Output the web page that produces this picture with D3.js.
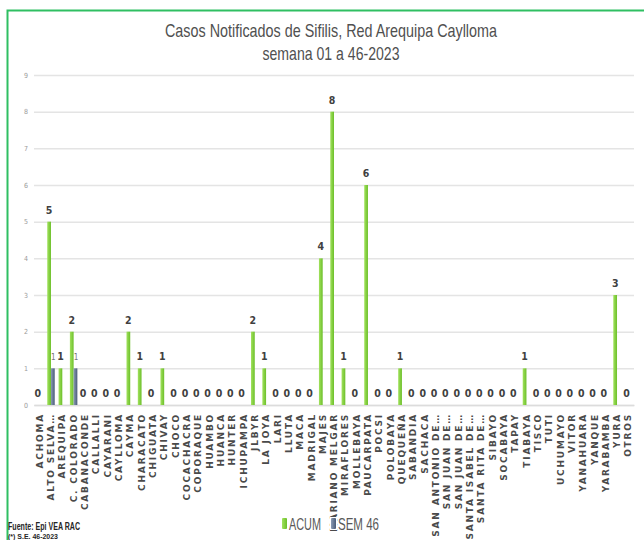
<!DOCTYPE html>
<html>
<head>
<meta charset="utf-8">
<script src="https://cdn.jsdelivr.net/npm/d3@7"></script>
<style>
  body { margin: 0; background: #fff; }
  svg { display: block; }
  .narrow { font-family: "Liberation Sans", Arial, sans-serif; }
</style>
</head>
<body>
<div id="view"></div>
<script>
// datos
const categories = [
  "ACHOMA","ALTO SELVA…","AREQUIPA","C. COLORADO","CABANACONDE","CALLALLI","CAYARANI","CAYLLOMA",
  "CAYMA","CHARACATO","CHIGUATA","CHIVAY","CHOCO","COCACHACRA","COPORAQUE","HUAMBO","HUANCA",
  "HUNTER","ICHUPAMPA","JLBYR","LA JOYA","LARI","LLUTA","MACA","MADRIGAL","MAJES","MARIANO MELGAR",
  "MIRAFLORES","MOLLEBAYA","PAUCARPATA","POCSI","POLOBAYA","QUEQUEÑA","SABANDIA","SACHACA",
  "SAN ANTONIO DE…","SAN JUAN DE…","SAN JUAN DE…","SANTA ISABEL DE…","SANTA RITA DE…",
  "SIBAYO","SOCABAYA","TAPAY","TIABAYA","TISCO","TUTI","UCHUMAYO","VITOR","YANAHUARA","YANQUE",
  "YARABAMBA","YURA","OTROS"
];
const acum = [
  0,5,1,2,0,0,0,0,
  2,1,0,1,0,0,0,0,0,
  0,0,2,1,0,0,0,0,4,8,
  1,0,6,0,0,1,0,0,
  0,0,0,0,0,
  0,0,0,1,0,0,0,0,0,0,
  0,3,0
];
const sem46 = [
  0,1,0,1,0,0,0,0,
  0,0,0,0,0,0,0,0,0,
  0,0,0,0,0,0,0,0,0,0,
  0,0,0,0,0,0,0,0,
  0,0,0,0,0,
  0,0,0,0,0,0,0,0,0,0,
  0,0,0
];
const series = ["ACUM", "SEM 46"];
const yTicks = [0,1,2,3,4,5,6,7,8,9];

(function () {
  const W = 644, H = 540;
  const M = { t: 75, r: 10, b: 135, l: 34 };
  const w = 634 - M.l;
  const h = 405 - M.t;

  const svg = d3.select("#view").append("svg")
    .attr("width", W).attr("height", H);

  // gradientes de las barras
  const defs = svg.append("defs");
  const gradDef = [["gACUM", "#a2e25e", "#6cbf2a"], ["gSEM", "#8a9bb5", "#4a5c78"]];
  gradDef.forEach(([id, c1, c2]) => {
    const lg = defs.append("linearGradient").attr("id", id)
      .attr("x1", 0).attr("x2", 1).attr("y1", 0).attr("y2", 0);
    lg.append("stop").attr("offset", "0%").attr("stop-color", c1);
    lg.append("stop").attr("offset", "100%").attr("stop-color", c2);
  });
  const fillFor = s => s === "ACUM" ? "url(#gACUM)" : "url(#gSEM)";

  // marco verde
  svg.append("rect")
    .attr("x", 7.5).attr("y", 10.5).attr("width", 660).attr("height", 560)
    .attr("fill", "none").attr("stroke", "#2fbf62").attr("stroke-width", 2);

  // título (texto angosto)
  const narrowText = (sel, x, y, size, len, txt, anchor = "middle") => sel.append("text")
    .attr("class", "narrow")
    .attr("x", x).attr("y", y).attr("text-anchor", anchor)
    .attr("textLength", len).attr("lengthAdjust", "spacingAndGlyphs")
    .style("font-size", size + "px")
    .text(txt);

  narrowText(svg, 331, 37, 19, 332, "Casos Notificados de Sifilis, Red Arequipa Caylloma").attr("fill", "#505050");
  narrowText(svg, 331, 60, 19, 137, "semana 01 a 46-2023").attr("fill", "#505050");

  const g = svg.append("g").attr("transform", `translate(${M.l},${M.t})`);

  const idx = d3.range(categories.length);
  const x0 = d3.scaleBand().domain(idx).range([0, w]).paddingInner(0.34).paddingOuter(0.17);
  const x1 = d3.scaleBand().domain(series).range([0, x0.bandwidth()]);
  const y = d3.scaleLinear().domain([0, 9]).range([h, 0]);

  // grid
  g.append("g")
    .call(d3.axisLeft(y).tickValues(yTicks).tickSize(-w).tickFormat(""))
    .call(s => s.select(".domain").remove())
    .call(s => s.selectAll("line").attr("stroke", "#e4e4e4").attr("stroke-width", 1.5));

  // eje Y
  g.append("g")
    .call(d3.axisLeft(y).tickValues(yTicks).tickSize(0).tickPadding(6))
    .call(s => s.select(".domain").remove())
    .call(s => s.selectAll("text")
      .style("font-family", "'DejaVu Sans Condensed', sans-serif")
      .style("font-size", "7px").attr("fill", "#9a9a9a"));

  // eje X
  const xAxis = g.append("g").attr("transform", `translate(0,${h})`)
    .call(d3.axisBottom(x0).tickSize(0).tickPadding(8).tickFormat(i => categories[i]));
  xAxis.select(".domain").attr("stroke", "#dcdcdc").attr("stroke-width", 1.5);
  xAxis.selectAll("text")
    .attr("transform", "rotate(-90)")
    .attr("text-anchor", "end")
    .attr("x", -8).attr("y", 0).attr("dy", "0.35em")
    .style("font-family", "'DejaVu Sans', sans-serif")
    .style("font-size", "9px").style("font-weight", "bold")
    .style("letter-spacing", "1.8px")
    .attr("fill", "#4a4a4a");

  // barras
  const rows = idx.map(i => ({ i, vals: [
    { s: "ACUM", v: acum[i] }, { s: "SEM 46", v: sem46[i] }
  ]}));

  const grp = g.selectAll("g.cat").data(rows).join("g")
    .attr("class", "cat")
    .attr("transform", d => `translate(${x0(d.i)},0)`);

  grp.selectAll("rect").data(d => d.vals.filter(v => v.v > 0)).join("rect")
    .attr("x", d => x1(d.s))
    .attr("y", d => y(d.v))
    .attr("width", x1.bandwidth())
    .attr("height", d => h - y(d.v))
    .attr("fill", d => fillFor(d.s));

  // etiquetas ACUM (incluye ceros)
  grp.append("text")
    .attr("x", x1("ACUM") + x1.bandwidth() / 2)
    .attr("y", d => y(d.vals[0].v) - 8)
    .attr("text-anchor", "middle")
    .style("font-family", "'DejaVu Sans Condensed', sans-serif")
    .style("font-size", "10.5px").style("font-weight", "bold")
    .attr("fill", "#404040")
    .text(d => d.vals[0].v);

  // etiquetas SEM 46 (solo > 0)
  grp.filter(d => d.vals[1].v > 0).append("text")
    .attr("x", x1("SEM 46") + x1.bandwidth() / 2 + 0.5)
    .attr("y", d => y(d.vals[1].v) - 8)
    .attr("text-anchor", "middle")
    .style("font-family", "'DejaVu Sans Condensed', sans-serif")
    .style("font-size", "8px")
    .attr("fill", "#777")
    .text(d => d.vals[1].v);

  // leyenda
  const leg = svg.append("g").attr("transform", "translate(282,518)");
  const legX = [0, 49], legLen = [32, 41];
  series.forEach((s, k) => {
    const lg = leg.append("g").attr("transform", `translate(${legX[k]},0)`);
    lg.append("rect").attr("x", -1).attr("y", -1).attr("width", 7).attr("height", 13).attr("fill", "#fff");
    lg.append("rect").attr("width", 5).attr("height", 11).attr("rx", 1).attr("fill", fillFor(s));
    narrowText(lg, 7, 12, 16, legLen[k], s, "start").attr("fill", "#595959");
  });

  // fuente
  narrowText(svg, 8, 530, 11, 72, "Fuente: Epi VEA RAC", "start")
    .style("font-weight", "bold").attr("fill", "#262626");
  narrowText(svg, 8, 539, 8, 50, "(*) S.E. 46-2023", "start")
    .style("font-weight", "bold").attr("fill", "#262626");
})();
</script>
</body>
</html>
